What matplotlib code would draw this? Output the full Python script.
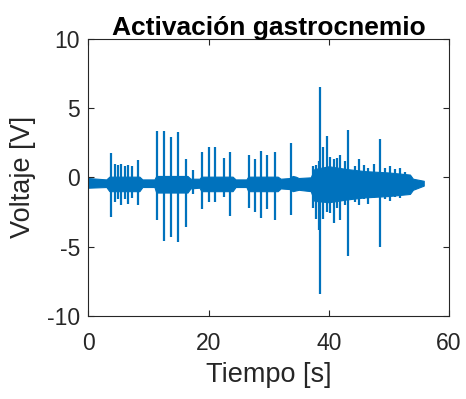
import matplotlib
matplotlib.use("Agg")
import matplotlib.pyplot as plt

plt.rcParams['font.family'] = ['Liberation Sans', 'DejaVu Sans']
plt.rcParams['axes.unicode_minus'] = False

# envelope of the background EMG band (time, upper, lower)
env_t  = [0.0, 3.0, 3.5, 8.5, 9.0, 11.0, 11.3, 16.5, 17.0, 18.5, 18.8, 24.0, 24.5,
          26.3, 26.6, 31.5, 32.0, 33.5, 34.0, 34.5, 35.0, 37.0, 37.6, 40.0, 43.0,
          46.0, 50.0, 53.5, 54.0, 55.8]
env_hi = [-0.05, -0.15, 0.05, 0.05, -0.15, -0.15, 0.1, 0.1, -0.1, -0.1, 0.05, 0.05, -0.15,
          -0.15, 0.05, 0.05, -0.1, -0.05, 0.1, 0.05, -0.05, 0.0, 0.6, 0.8, 0.6,
          0.45, 0.35, 0.2, -0.1, -0.25]
env_lo = [-0.75, -0.7, -1.0, -1.0, -0.7, -0.7, -1.1, -1.1, -0.8, -0.75, -1.0, -1.0, -0.7,
          -0.7, -1.0, -1.0, -0.8, -0.85, -1.0, -0.95, -0.9, -1.0, -1.7, -1.8, -1.6,
          -1.45, -1.35, -1.2, -0.9, -0.6]

# individual spikes (time, peak, trough)
spike_t  = [3.7, 4.4, 4.9, 5.5, 6.1, 6.6, 7.2, 8.3,
            11.5, 12.6, 13.7, 14.9, 16.2, 17.4,
            18.9, 20.0, 21.1, 22.5, 23.5,
            26.7, 27.7, 28.8, 29.8, 31.0, 33.7,
            37.4, 37.9, 38.3, 38.6, 39.1, 39.7, 40.2, 40.9, 41.4, 41.8, 42.7, 43.2,
            44.3, 45.0, 45.8, 46.6, 47.5, 48.5, 49.3, 50.2, 51.0, 51.8, 52.6]
spike_hi = [1.75, 1.0, 0.9, 1.0, 0.8, 0.9, 0.8, 1.25,
            3.37, 3.37, 2.95, 3.3, 1.3, 0.5,
            1.8, 2.2, 2.2, 1.4, 1.8,
            1.6, 1.3, 1.9, 1.6, 1.85, 2.5,
            0.8, 0.9, 1.2, 6.55, 2.2, 3.0, 1.5, 1.3, 1.4, 1.6, 1.2, 3.4,
            0.8, 1.3, 0.9, 0.7, 1.0, 2.75, 0.7, 0.8, 0.6, 0.7, 0.4]
spike_lo = [-2.85, -1.8, -1.6, -2.0, -1.6, -1.9, -1.5, -2.0,
            -3.1, -4.6, -4.3, -4.7, -3.6, -1.2,
            -2.3, -1.8, -1.8, -1.4, -2.8,
            -2.2, -2.5, -2.95, -2.3, -3.1, -2.7,
            -2.2, -3.0, -3.8, -8.45, -3.0, -2.5, -2.6, -3.3, -2.2, -3.1, -2.0, -5.7,
            -1.8, -2.0, -1.6, -1.9, -1.5, -5.0, -1.6, -1.7, -1.4, -1.5, -1.2]

x_ticks = [0, 20, 40, 60]
y_ticks = [-10, -5, 0, 5, 10]

blue = '#0072BD'
dark = '#262626'

fig = plt.figure(figsize=(4.66, 3.99), dpi=100)
ax = fig.add_axes([0.1895, 0.2088, 0.774, 0.6935])

ax.fill_between(env_t, env_lo, env_hi, color=blue, lw=0.8, edgecolor=blue)
ax.vlines(spike_t, spike_lo, spike_hi, color=blue, lw=1.6)

ax.set_xlim(0, 60)
ax.set_ylim(-10, 10)
ax.set_xticks(x_ticks)
ax.set_yticks(y_ticks)
ax.tick_params(direction='in', length=4, width=0.8, labelsize=16.5, colors=dark,
               top=True, right=True)
ax.tick_params(axis='x', pad=12)
ax.tick_params(axis='y', pad=6)
for s in ax.spines.values():
    s.set_color(dark)
    s.set_linewidth(0.8)

ax.set_xlabel('Tiempo [s]', fontsize=19.5, color=dark, labelpad=5)
ax.set_ylabel('Voltaje [V]', fontsize=19.5, color=dark, labelpad=8)
ax.set_title('Activación gastrocnemio', fontsize=19, fontweight='bold', color='black', pad=3)

fig.savefig('out.png', dpi=100)
